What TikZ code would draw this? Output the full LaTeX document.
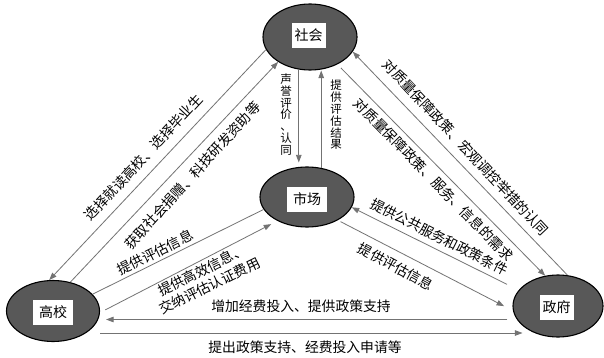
\documentclass[tikz,border=0pt]{standalone}
\usepackage{fontspec}
\newfontfamily\cjk{Noto Sans CJK SC}
\usetikzlibrary{shapes.geometric,arrows.meta}
\definecolor{linegray}{RGB}{115,115,115}
\definecolor{ellfill}{RGB}{88,88,88}
\begin{document}
\begin{tikzpicture}[x=1pt,y=-1pt,
  ell/.style={ellipse, draw=black, line width=1.1pt, fill=ellfill, inner sep=0pt},
  lbl/.style={fill=white, inner sep=0pt, minimum height=25pt, font=\cjk\fontsize{14}{14}\selectfont},
  conn/.style={draw=linegray, line width=0.8pt},
  arr/.style={conn, -{Triangle[length=7.5pt,width=5.5pt]}},
  txt/.style={font=\cjk\fontsize{13.8}{17}\selectfont, inner sep=0pt},
  vtxt/.style={font=\cjk\fontsize{11.5}{11.8}\selectfont, align=center, inner sep=0pt}]

\useasboundingbox (0,0) rectangle (604,358);
\fill[white] (0,0) rectangle (604,358);

% ellipses
\node[ell, minimum width=94pt, minimum height=66pt] (soc) at (310,37) {};
\node[ell, minimum width=94pt, minimum height=60pt] (mkt) at (307,197) {};
\node[ell, minimum width=93pt, minimum height=61pt] (uni) at (53,311) {};
\node[ell, minimum width=90pt, minimum height=62pt] (gov) at (558,306) {};

% labels
\node[lbl, minimum width=34pt] (socl) at (308.5,35.5) {社会};
\node[lbl, minimum width=40pt] (mktl) at (307,199) {市场};
\node[lbl, minimum width=40pt] (unil) at (53,312) {高校};
\node[lbl, minimum width=34pt] (govl) at (556.5,307) {政府};

% connectors
\draw[arr] (soc.196) -- (uni.97);
\draw[arr] (uni.59) -- (soc.218);
\draw[conn] (mkt.196) -- (uni.23);
\draw[arr, shorten <=6pt, shorten >=7pt] (uni.-2) -- (mkt.219);
\draw[arr, shorten >=4pt] (soc.251) -- (soc.251 |- mkt.north);
\draw[arr] (mkt.64) -- (mkt.64 |- soc.south);
\draw[arr] (gov.73) -- (soc.-19);
\draw[arr, shorten <=5pt] (soc.-45) -- (gov.113);
\draw[arr, shorten <=13pt] (gov.158) -- (mkt.-13);
\draw[arr, shorten <=3pt, shorten >=10pt] (mkt.-37) -- (gov.186);
\draw[arr] ([xshift=-5pt,yshift=-13.5pt]gov.west) -- ([xshift=6pt,yshift=-8.5pt]uni.east);
\draw[arr] ([yshift=-22pt]uni.east) -- ([xshift=10pt,yshift=-27pt]gov.west);

% texts
\node[txt, rotate=47] (tA) at (143.5,157.5) {选择就读高校、选择毕业生};
\node[txt, rotate=47.6] (tB) at (192.5,175.5) {获取社会捐赠、科技研发资助等};
\node[txt, rotate=26.5] (tC) at (155,252.5) {提供评估信息};
\node[txt, rotate=26.2, align=center] (tD) at (205.8,278) {提供高效信息、\\交纳评估认证费用};
\node[vtxt] (tE1) at (286,114.5) {声\\誉\\评\\价\\、\\认\\同};
\node[vtxt] (tE2) at (336,115) {提\\供\\评\\估\\结\\果};
\node[txt, rotate=-46.8] (tF) at (465.8,147.5) {对质量保障政策、宏观调控举措的认同};
\node[txt, rotate=-45.6] (tG) at (433.8,179.5) {对质量保障政策、服务、信息的需求};
\node[txt, rotate=-26.9] (tH) at (439.2,236.7) {提供公共服务和政策条件};
\node[txt, rotate=-28.4] (tI) at (395.8,266.7) {提供评估信息};
\node[txt] (tJ) at (301,306) {增加经费投入、提供政策支持};
\node[txt] (tK) at (305,347.3) {提出政策支持、经费投入申请等};
\end{tikzpicture}
\end{document}
